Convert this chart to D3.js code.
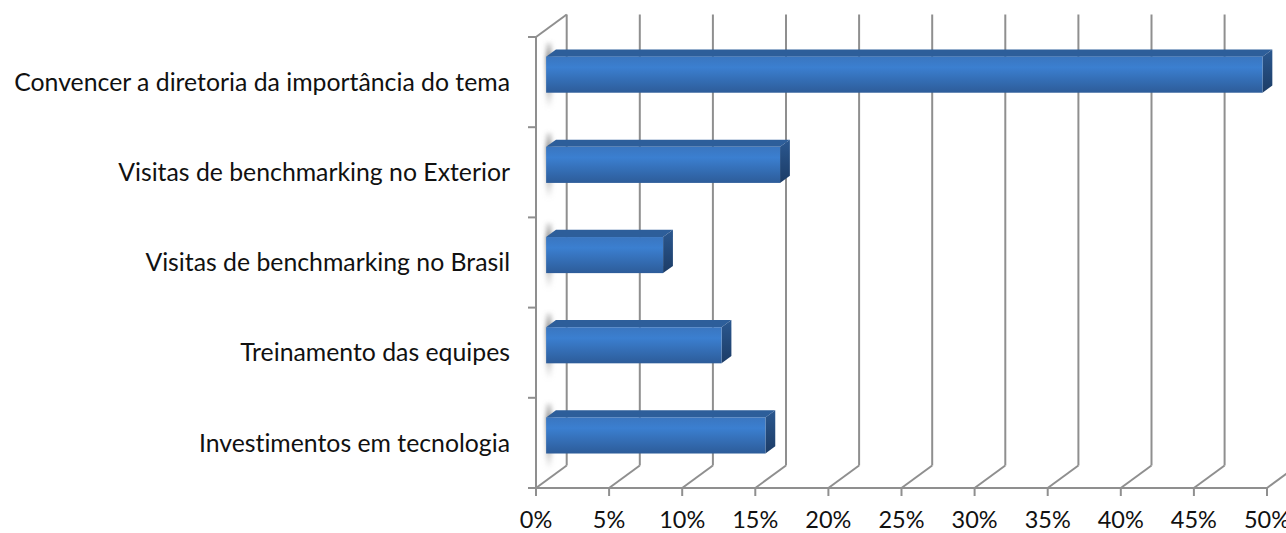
<!DOCTYPE html>
<html><head><meta charset="utf-8">
<script src="https://cdn.jsdelivr.net/npm/d3@7"></script>
<style>html,body{margin:0;padding:0;background:#fff;}svg{display:block;}text{font-variant-ligatures:none;}</style>
</head><body>
<svg id="c" width="1286" height="533"></svg>
<script>
const categories = ["Convencer a diretoria da importância do tema","Visitas de benchmarking no Exterior","Visitas de benchmarking no Brasil","Treinamento das equipes","Investimentos em tecnologia"];
const values = [0.49, 0.16, 0.08, 0.12, 0.15];
const tickValues = [0,0.05,0.1,0.15,0.2,0.25,0.3,0.35,0.4,0.45,0.5];

const svg = d3.select("#c");
const x = d3.scaleLinear().domain([0,0.5]).range([536,1267]);
const y = d3.scaleBand().domain(categories).range([37,488]).paddingInner(0.6).paddingOuter(0.3);
const floorY = 488, topY = 37;
const DX = 30.7, DY = -22.5;
const f0 = 0.33, f1 = 0.65;
const grid = "#8f8f8f";
const font = "Lato, 'Open Sans', sans-serif";

const defs = svg.append("defs");
const gF = defs.append("linearGradient").attr("id","front").attr("x1",0).attr("y1",0).attr("x2",0).attr("y2",1);
gF.append("stop").attr("offset","0%").attr("stop-color","#3a76c0");
gF.append("stop").attr("offset","30%").attr("stop-color","#3b7fd0");
gF.append("stop").attr("offset","100%").attr("stop-color","#2d5c99");
const gS = defs.append("linearGradient").attr("id","side").attr("x1",0).attr("y1",0).attr("x2",0).attr("y2",1);
gS.append("stop").attr("offset","0%").attr("stop-color","#2b5890");
gS.append("stop").attr("offset","100%").attr("stop-color","#1c3c66");
const gSh = defs.append("linearGradient").attr("id","shadow").attr("x1",0).attr("y1",0).attr("x2",0).attr("y2",1);
gSh.append("stop").attr("offset","0%").attr("stop-color","#777").attr("stop-opacity",0.2);
gSh.append("stop").attr("offset","25%").attr("stop-color","#777").attr("stop-opacity",0.9);
gSh.append("stop").attr("offset","75%").attr("stop-color","#999").attr("stop-opacity",0.5);
gSh.append("stop").attr("offset","100%").attr("stop-color","#bbb").attr("stop-opacity",0);
defs.append("filter").attr("id","blur").attr("x","-3").attr("y","-1").attr("width","7").attr("height","3")
  .append("feGaussianBlur").attr("stdDeviation","2.2");

tickValues.forEach(t => {
  svg.append("line").attr("x1",x(t)).attr("y1",floorY).attr("x2",x(t)+DX).attr("y2",floorY+DY)
    .attr("stroke",grid).attr("stroke-width",2);
  svg.append("line").attr("x1",x(t)+DX).attr("y1",floorY+DY).attr("x2",x(t)+DX).attr("y2",topY+DY)
    .attr("stroke",grid).attr("stroke-width",2);
});
svg.append("line").attr("x1",x(0)).attr("y1",topY).attr("x2",x(0)).attr("y2",floorY).attr("stroke",grid).attr("stroke-width",2);
svg.append("line").attr("x1",x(0)).attr("y1",topY).attr("x2",x(0)+DX).attr("y2",topY+DY).attr("stroke",grid).attr("stroke-width",2);
const bounds = [37];
categories.forEach(c => bounds.push(y(c) - y.step()*y.paddingInner()/2 + y.step()));
bounds.forEach(b => svg.append("line").attr("x1",x(0)-8).attr("x2",x(0)).attr("y1",b).attr("y2",b).attr("stroke",grid).attr("stroke-width",2));
svg.append("line").attr("x1",x(0)).attr("x2",x(0.5)).attr("y1",floorY).attr("y2",floorY).attr("stroke",grid).attr("stroke-width",2);
tickValues.forEach(t => svg.append("line").attr("x1",x(t)).attr("x2",x(t)).attr("y1",floorY).attr("y2",floorY+8).attr("stroke",grid).attr("stroke-width",2));

// shadows on left wall
categories.forEach(c => {
  const by = y(c);
  svg.append("rect").attr("x",x(0)+DX*0.42-3).attr("y",by+DY*0.42-12).attr("width",6).attr("height",y.bandwidth()+30)
    .attr("fill","url(#shadow)").attr("filter","url(#blur)");
});

categories.forEach((c,i) => {
  const v = values[i];
  const x0 = x(0), x1 = x(v);
  const yt = y(c), yb = y(c)+y.bandwidth();
  const P = (px,py,f) => [px+DX*f, py+DY*f];
  const g = svg.append("g");
  const ftl = P(x0,yt,f0), ftr = P(x1,yt,f0), fbr = P(x1,yb,f0), fbl = P(x0,yb,f0);
  const btl = P(x0,yt,f1), btr = P(x1,yt,f1), bbr = P(x1,yb,f1);
  g.append("polygon").attr("points",[ftl,ftr,btr,btl].map(p=>p.join(",")).join(" ")).attr("fill","#2d5e9a");
  g.append("polygon").attr("points",[ftr,btr,bbr,fbr].map(p=>p.join(",")).join(" ")).attr("fill","url(#side)");
  g.append("rect").attr("x",ftl[0]).attr("y",ftl[1]).attr("width",ftr[0]-ftl[0]).attr("height",fbl[1]-ftl[1]).attr("fill","url(#front)");
});

categories.forEach(c => {
  svg.append("text").attr("x",510).attr("y",y(c)+y.bandwidth()/2).attr("dy","0.35em")
    .attr("text-anchor","end").attr("font-family",font).attr("font-size",24.8).attr("fill","#111").text(c);
});
tickValues.forEach(t => {
  svg.append("text").attr("x",x(t)).attr("y",528).attr("text-anchor","middle")
    .attr("font-family",font).attr("font-size",23.5).attr("fill","#111").text(d3.format(".0%")(t));
});
</script>
</body></html>
